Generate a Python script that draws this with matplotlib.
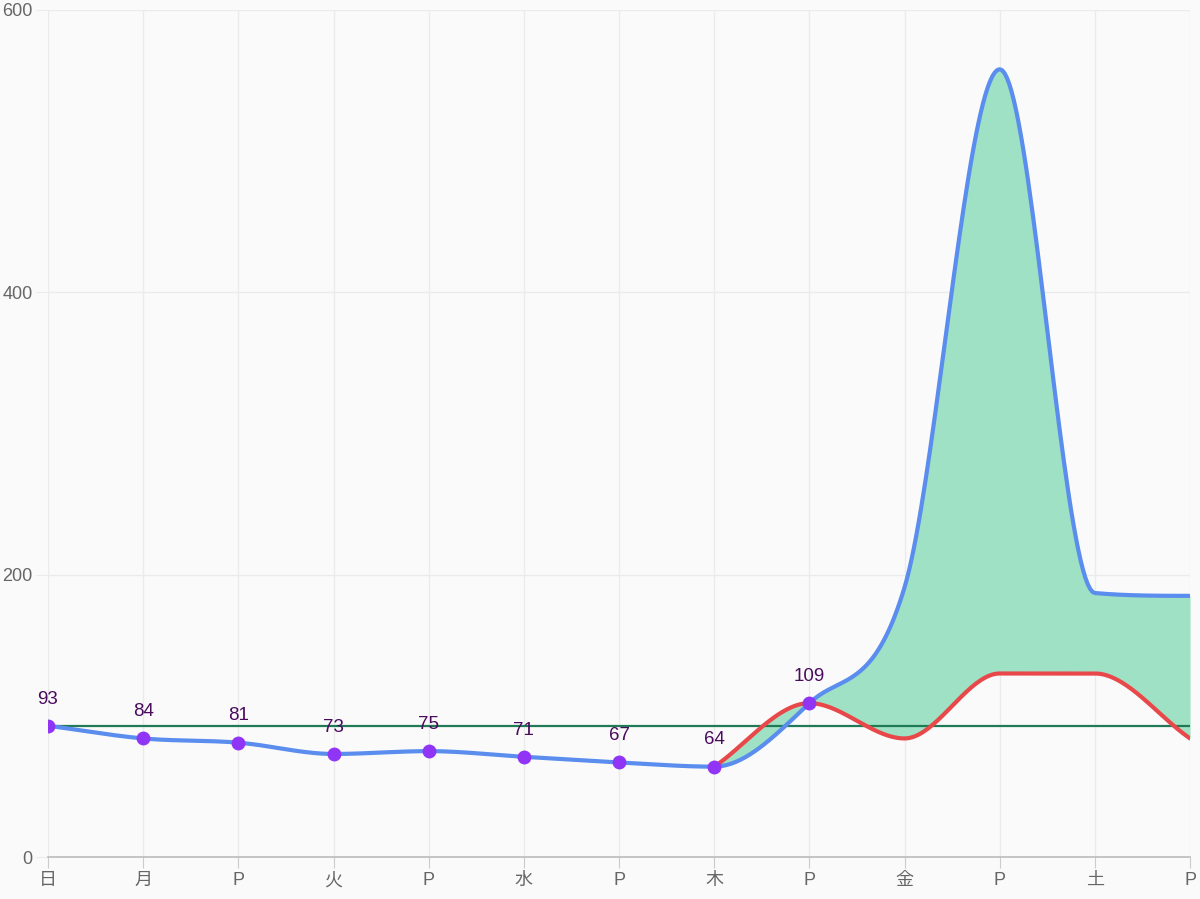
import numpy as np
import matplotlib
matplotlib.use("Agg")
import matplotlib.pyplot as plt

plt.rcParams['font.family'] = ['Liberation Sans', 'Noto Sans CJK JP', 'DejaVu Sans']

# Category labels along the x axis
labels = ["日", "月", "P", "火", "P", "水", "P", "木", "P", "金", "P", "土", "P"]

# Blue series (full week)
blue_vals = [93, 84, 81, 73, 75, 71, 67, 64, 109, 191, 558, 187, 185]

# Red series starts at 木
red_start = 7
red_vals = [64, 109, 84, 130, 130, 84]

# Labelled points (first part of the blue series)
n_marked = 9

# Horizontal reference line
ref_value = 93

y_ticks = [0, 200, 400, 600]


def monotone_curve(y, samples=40):
    """Monotone cubic (Fritsch-Carlson) curve through equally spaced points."""
    y = np.asarray(y, dtype=float)
    n = len(y)
    d = np.diff(y)
    m = np.zeros(n)
    m[0] = d[0]
    m[-1] = d[-1]
    for k in range(1, n - 1):
        if d[k - 1] * d[k] <= 0:
            m[k] = 0.0
        else:
            m[k] = (d[k - 1] + d[k]) / 2.0
    for k in range(n - 1):
        if d[k] == 0:
            m[k] = 0.0
            m[k + 1] = 0.0
            continue
        a = m[k] / d[k]
        b = m[k + 1] / d[k]
        s = a * a + b * b
        if s > 9:
            tau = 3.0 / np.sqrt(s)
            m[k] = tau * a * d[k]
            m[k + 1] = tau * b * d[k]
    xs, ys = [], []
    for k in range(n - 1):
        t = np.linspace(0, 1, samples, endpoint=(k == n - 2))
        h00 = 2 * t**3 - 3 * t**2 + 1
        h10 = t**3 - 2 * t**2 + t
        h01 = -2 * t**3 + 3 * t**2
        h11 = t**3 - t**2
        xs.append(k + t)
        ys.append(h00 * y[k] + h10 * m[k] + h01 * y[k + 1] + h11 * m[k + 1])
    return np.concatenate(xs), np.concatenate(ys)


bg = "#fafafa"
fig = plt.figure(figsize=(12, 8.99), dpi=100, facecolor=bg)
ax = fig.add_axes([0.04, 0.0467, 0.9517, 0.9422], facecolor=bg)

bx, by = monotone_curve(blue_vals)
rx, ry = monotone_curve(red_vals)
rx = rx + red_start

# fill between the two curves where both exist
mask = bx >= red_start
ax.fill_between(bx[mask], by[mask], np.interp(bx[mask], rx, ry),
                color="#9fe1c4", linewidth=0, zorder=2)

ax.axhline(ref_value, color="#1f7a55", linewidth=1.6, zorder=3)
ax.plot(rx, ry, color="#e8484a", linewidth=3, zorder=4,
        solid_capstyle="round")
ax.plot(bx, by, color="#5a8dee", linewidth=3, zorder=5,
        solid_capstyle="round")

xi = np.arange(n_marked)
ax.plot(xi, blue_vals[:n_marked], "o", color="#9035f5", markersize=10,
        markeredgewidth=0, zorder=6)
for i in xi:
    ax.annotate(str(blue_vals[i]), (i, blue_vals[i]), xytext=(0, 16),
                textcoords="offset points", ha="center", va="baseline",
                fontsize=13.5, color="#4a0a5e", zorder=7)

ax.set_xlim(0, len(labels) - 1)
ax.set_ylim(0, 600)
ax.set_xticks(range(len(labels)))
ax.set_xticklabels(labels)
ax.set_yticks(y_ticks)

ax.grid(True, color="#ebebeb", linewidth=1)
ax.set_axisbelow(True)
for side in ["top", "right", "left"]:
    ax.spines[side].set_visible(False)
ax.spines["bottom"].set_color("#bbbbbb")
ax.spines["bottom"].set_linewidth(1.2)

ax.tick_params(axis="x", length=8, color="#cccccc", labelsize=13,
               labelcolor="#666666", pad=3)
ax.tick_params(axis="y", length=9, color="#ebebeb", labelsize=13,
               labelcolor="#666666", pad=2)

fig.savefig("out.png", dpi=100, facecolor=bg)
